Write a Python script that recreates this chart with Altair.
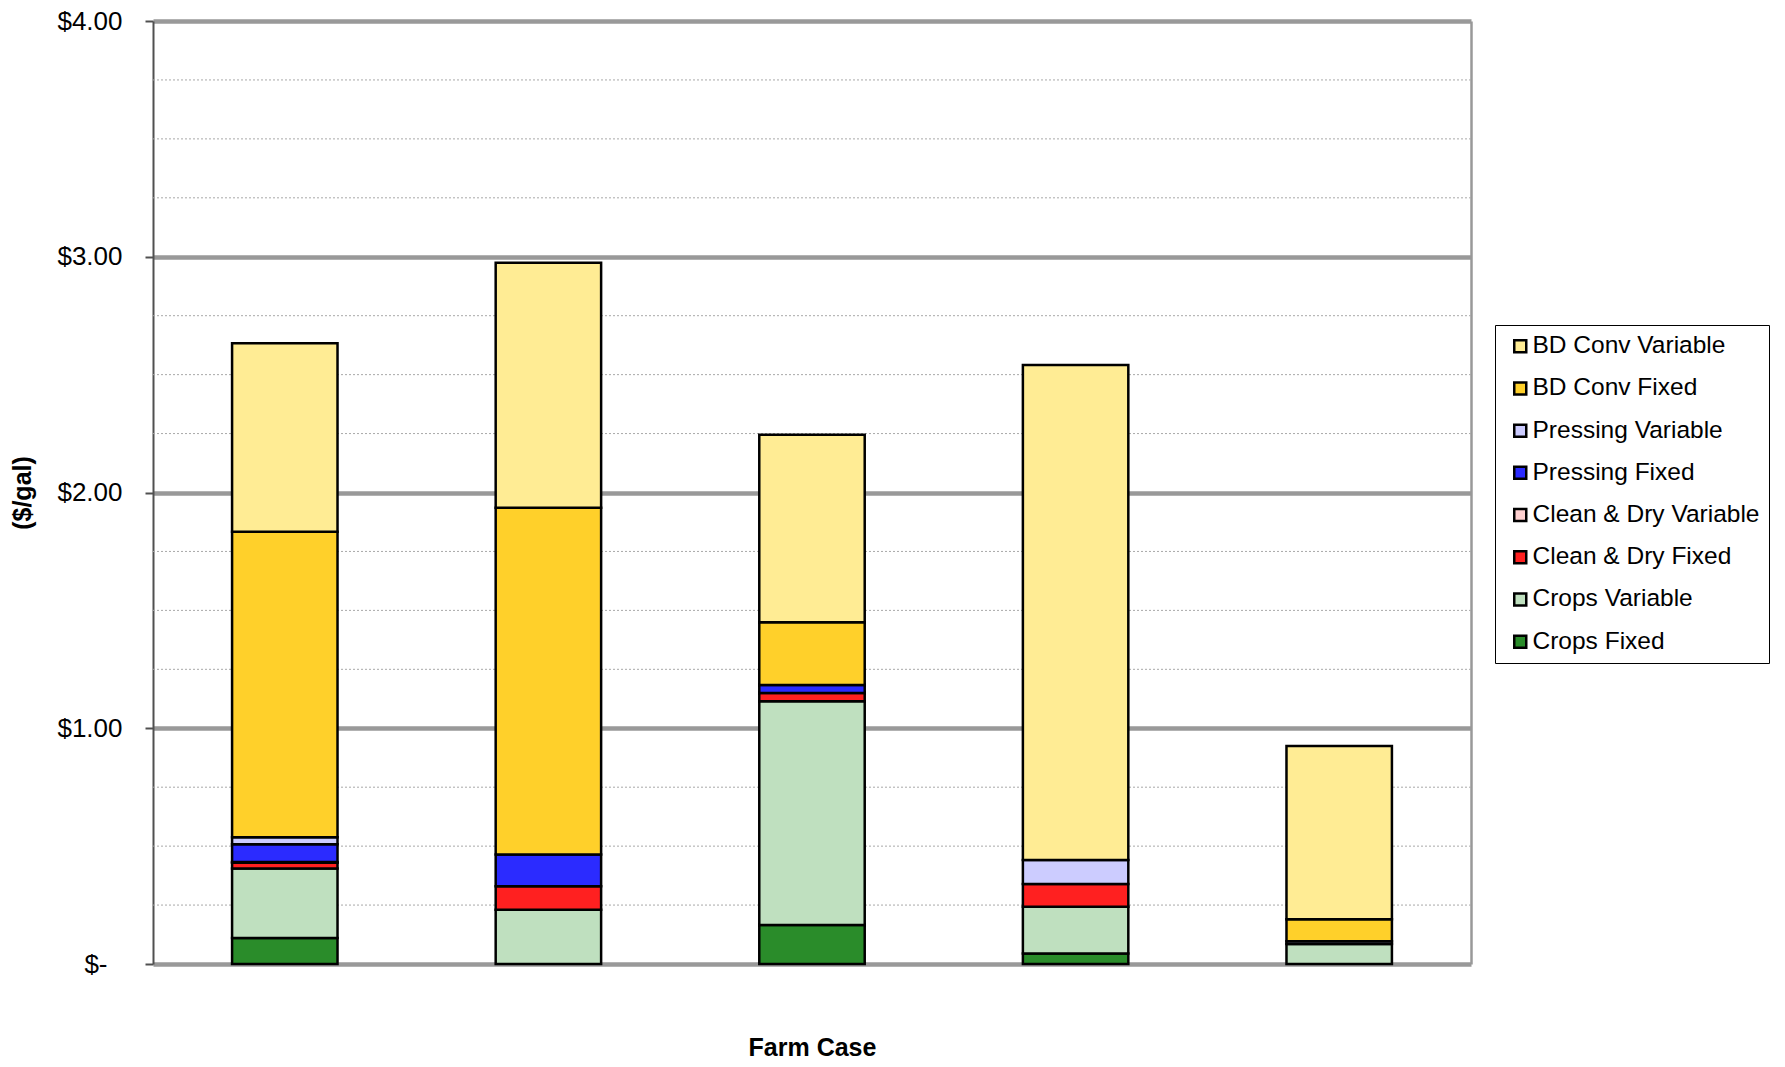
import altair as alt
import pandas as pd

cases = ["Farm Case 1", "Farm Case 2", "Farm Case 3", "Farm Case 4", "Farm Case 5"]

# stacking order, bottom to top
components = ["Crops Fixed", "Crops Variable", "Clean & Dry Fixed", "Clean & Dry Variable",
              "Pressing Fixed", "Pressing Variable", "BD Conv Fixed", "BD Conv Variable"]

crops_fixed        = [0.110, 0.000, 0.165, 0.045, 0.000]
crops_variable     = [0.295, 0.230, 0.950, 0.198, 0.085]
clean_dry_fixed    = [0.025, 0.100, 0.035, 0.096, 0.000]
clean_dry_variable = [0.003, 0.000, 0.000, 0.000, 0.000]
pressing_fixed     = [0.075, 0.135, 0.033, 0.000, 0.000]
pressing_variable  = [0.030, 0.000, 0.000, 0.102, 0.012]
bd_conv_fixed      = [1.295, 1.470, 0.267, 0.000, 0.093]
bd_conv_variable   = [0.800, 1.040, 0.795, 2.100, 0.735]

series = [crops_fixed, crops_variable, clean_dry_fixed, clean_dry_variable,
          pressing_fixed, pressing_variable, bd_conv_fixed, bd_conv_variable]

colors = {
    "BD Conv Variable": "#FFEC94",
    "BD Conv Fixed": "#FFD02A",
    "Pressing Variable": "#CCCCFF",
    "Pressing Fixed": "#2B2BFF",
    "Clean & Dry Variable": "#FFD0D0",
    "Clean & Dry Fixed": "#FF2020",
    "Crops Variable": "#BFE0BF",
    "Crops Fixed": "#2A8C2A",
}
legend_order = components[::-1]

minor_grid = [0.25, 0.5, 0.75, 1.25, 1.5, 1.75, 2.25, 2.5, 2.75, 3.25, 3.5, 3.75]
major_ticks = [0, 1, 2, 3, 4]

rows = []
for i, (name, vals) in enumerate(zip(components, series)):
    for c, v in zip(cases, vals):
        if v > 0:
            rows.append({"case": c, "component": name, "value": v, "ord": i})
df = pd.DataFrame(rows)
grid_df = pd.DataFrame({"v": minor_grid})

FONT = "Liberation Sans"
yscale = alt.Scale(domain=[0, 4], nice=False, zero=True)

grid = alt.Chart(grid_df).mark_rule(color="#A8A8A8", strokeWidth=1, strokeDash=[2, 2]).encode(
    y=alt.Y("v:Q", scale=yscale,
            axis=alt.Axis(orient="right", domain=True, domainColor="#999999", domainWidth=2.5,
                          ticks=False, labels=False, grid=False, title=None))
)

bars = alt.Chart(df).mark_bar(stroke="black", strokeWidth=2.5, opacity=1).encode(
    x=alt.X("case:N", sort=cases,
            scale=alt.Scale(paddingInner=0.6, paddingOuter=0.3),
            axis=alt.Axis(title="Farm Case", labels=False, ticks=False, domain=False,
                          titleFont=FONT, titleFontSize=25, titleFontWeight="bold",
                          titleColor="black", titlePadding=71)),
    y=alt.Y("value:Q", stack="zero", scale=yscale,
            axis=alt.Axis(values=major_ticks, title="($/gal)",
                          labelExpr="datum.value == 0 ? '$-' : '$' + format(datum.value, '.2f')",
                          labelFont=FONT, labelFontSize=26, labelColor="black",
                          labelPadding={"condition": {"test": "datum.value === 0", "value": 38}, "value": 23},
                          tickSize=8, tickColor="#505050", tickWidth=2,
                          domainColor="#505050", domainWidth=2,
                          grid=True, gridColor="#999999", gridWidth=4.5,
                          titleFont=FONT, titleFontSize=25, titleFontWeight="bold",
                          titleColor="black", titlePadding=21)),
    color=alt.Color("component:N",
                    scale=alt.Scale(domain=legend_order, range=[colors[k] for k in legend_order]),
                    legend=alt.Legend(title=None, orient="none", legendX=1342, legendY=304,
                                      symbolType="square", symbolSize=144,
                                      symbolStrokeColor="black", symbolStrokeWidth=2.5,
                                      symbolOffset=4, labelOffset=0,
                                      labelFont=FONT, labelFontSize=24.5, labelColor="black",
                                      labelLimit=400, padding=9, rowPadding=17.2,
                                      strokeColor="black", fillColor="white")),
    order=alt.Order("ord:Q", sort="ascending"),
)

chart = alt.layer(grid, bars).resolve_axis(y="independent").properties(
    width=1318, height=943,
    autosize=alt.AutoSizeParams(type="none"),
    padding={"left": 153, "top": 21, "right": 314, "bottom": 103},
    background="white",
).configure_view(stroke=None)

chart.save("out.html", embed_options={"renderer": "svg", "actions": False})
